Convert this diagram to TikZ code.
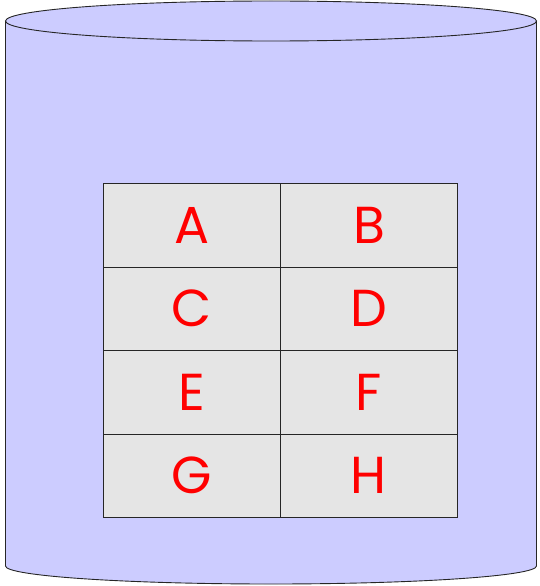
\documentclass[tikz,border=0pt]{standalone}
\usepackage{fontspec}
\setmainfont{Poppins}
\begin{document}
\begin{tikzpicture}[x=1pt,y=-1pt,
  cell/.style={draw=black!85,line width=0.9pt,fill=gray!20,minimum width=177pt,minimum height=83.5pt,inner sep=0pt,anchor=north west,
    font=\fontsize{52}{52}\selectfont,text=red},
  cyl/.style={draw=black!85,line width=0.9pt}]
\useasboundingbox (0,0) rectangle (539,586);
% cylinder body
\fill[fill={rgb,255:red,204;green,204;blue,255}] (5.5,21) -- (5.5,566) arc[start angle=180,end angle=0,x radius=265.5,y radius=18] -- (536.5,21) arc[start angle=0,end angle=-180,x radius=265.5,y radius=20] -- cycle;
\draw[cyl] (5.5,566) -- (5.5,21);
\draw[cyl] (536.5,21) -- (536.5,566);
\draw[cyl] (271,21) ellipse[x radius=265.5,y radius=20];
\draw[cyl] (5.5,566) arc[start angle=180,end angle=0,x radius=265.5,y radius=18];
% table
\node[cell] (A) at (103,183) {A};
\node[cell] (B) at (280,183) {B};
\node[cell] (C) at (103,266.5) {C};
\node[cell] (D) at (280,266.5) {D};
\node[cell] (E) at (103,350) {E};
\node[cell] (F) at (280,350) {F};
\node[cell] (G) at (103,433.5) {G};
\node[cell] (H) at (280,433.5) {H};
\end{tikzpicture}
\end{document}
